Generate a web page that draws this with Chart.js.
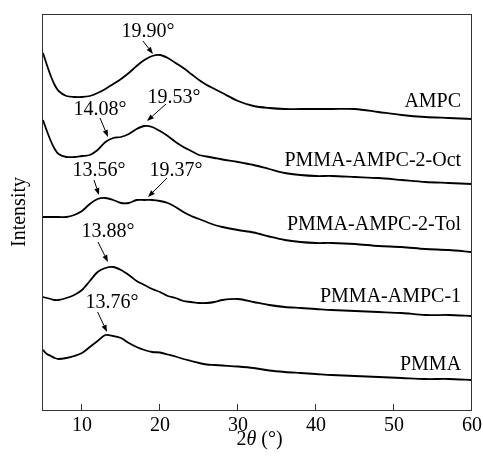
<!DOCTYPE html>
<html>
<head>
<meta charset="utf-8">
<script src="https://cdn.jsdelivr.net/npm/chart.js@4.4.1/dist/chart.umd.min.js"></script>
<style>
html,body{margin:0;padding:0;background:#fff;}
canvas{display:block;}
</style>
</head>
<body>
<canvas id="c" width="483" height="457"></canvas>
<script>
// 2θ grid (degrees)
const angles = [5,5.5,6,6.5,7,8,9,10,11,12,13,14,15,16,17,18,19,20,21,22,23,24,25,26,27,28,30,32,34,36,38,40,42,45,48,51,54,57,60];
// Intensities (a.u., stacked offsets as in the figure)
const ampc  = [357,345,334,325,319,314,313,313,314,317,321,326,331,337,344,350,354,355,352,347,342,336,330,325,321,317,309,304,302,301,301,301,301,301,298,295,293,292,291];
const oct   = [290,279,269,261,256,253,253,254,255,260,268,272,273,276,281,284,283,279,274,268,263,259,255,253.5,252,250.5,248,245,241,237,235,234,234,233,232,230,228,227,226];
const tol   = [193,193,193,193,193,193,195,199,206,211,212,210,207,207,210,210,210,209,207,203,198,194,191,188,185,183,180,177.5,173.5,170,168,167,167,166,164,163,161,160,158];
const ampc1 = [113,112,111,110,110,112,115,120,129,138,142,143,140,135,129,125,121,118,114,112,109,108,107,107,108,110,111,108,105,103,102,101,100,99,98,97,95,95,94];
const pmma  = [60,56,54,52,51,52,54,57,63,69,75,74,72,67,63,60,58,57.5,55.5,53.5,51,49,47,45.5,45,44.5,43.5,42,39.5,38,37,36,35,34,33,32,31,31,30];

const seriesNames = ['AMPC','PMMA-AMPC-2-Oct','PMMA-AMPC-2-Tol','PMMA-AMPC-1','PMMA'];
const seriesValues = [ampc, oct, tol, ampc1, pmma];
const seriesLabelAngle = 58.6;
const seriesLabelLevel = [308, 249, 185, 113, 45];

const xTicks = [10,20,30,40,50,60];

// Peak annotations
const peakTexts  = ['19.90°','14.08°','19.53°','13.56°','19.37°','13.88°','13.76°'];
const peakTextX  = [18.46, 12.31, 21.79, 12.18, 22.05, 13.33, 13.85];
const peakTextY  = [378, 300, 312, 239, 239, 178, 107];
const arrowTailX = [17.82, 12.31, 20.77, 11.54, 20.90, 12.05, 12.0];
const arrowTailY = [369, 292, 306, 230, 232, 168, 98];
const arrowTipX  = [19.10, 13.33, 18.33, 12.18, 18.46, 13.33, 13.21];
const arrowTipY  = [356, 273, 289, 215, 213, 148, 78];

const FONT = "'Liberation Serif','Times New Roman',serif";

const decor = {
  id: 'decor',
  afterDraw(chart) {
    const ctx = chart.ctx;
    const a = chart.chartArea;
    const xs = chart.scales.x, ys = chart.scales.y;
    ctx.save();
    // frame
    ctx.strokeStyle = '#333';
    ctx.lineWidth = 1;
    ctx.strokeRect(Math.round(a.left) - 0.5, Math.round(a.top) + 0.5, Math.round(a.right - a.left), Math.round(a.bottom - a.top));
    // inner ticks on bottom axis
    ctx.beginPath();
    xTicks.forEach(t => {
      const px = Math.round(xs.getPixelForValue(t)) - 0.5;
      ctx.moveTo(px, a.bottom);
      ctx.lineTo(px, a.bottom - 6);
    });
    ctx.stroke();

    ctx.fillStyle = '#000';
    ctx.strokeStyle = '#000';
    ctx.font = '20px ' + FONT;
    // series labels
    ctx.textAlign = 'right';
    ctx.textBaseline = 'middle';
    seriesNames.forEach((n, i) => {
      ctx.fillText(n, xs.getPixelForValue(seriesLabelAngle), ys.getPixelForValue(seriesLabelLevel[i]));
    });
    // peak labels + arrows
    ctx.textAlign = 'center';
    peakTexts.forEach((t, i) => {
      ctx.fillText(t, xs.getPixelForValue(peakTextX[i]), ys.getPixelForValue(peakTextY[i]));
      const x0 = xs.getPixelForValue(arrowTailX[i]), y0 = ys.getPixelForValue(arrowTailY[i]);
      const x1 = xs.getPixelForValue(arrowTipX[i]), y1 = ys.getPixelForValue(arrowTipY[i]);
      const ang = Math.atan2(y1 - y0, x1 - x0);
      const L = 7, W = 2.6;
      const bx = x1 - L * Math.cos(ang), by = y1 - L * Math.sin(ang);
      ctx.lineWidth = 1;
      ctx.beginPath();
      ctx.moveTo(x0, y0);
      ctx.lineTo(bx, by);
      ctx.stroke();
      ctx.beginPath();
      ctx.moveTo(x1, y1);
      ctx.lineTo(bx + W * Math.sin(ang), by - W * Math.cos(ang));
      ctx.lineTo(bx - W * Math.sin(ang), by + W * Math.cos(ang));
      ctx.closePath();
      ctx.fill();
    });
    // x-axis title: 2θ (°)
    const parts = [['2', 'normal'], ['θ', 'italic'], [' (°)', 'normal']];
    let total = 0;
    parts.forEach(p => { ctx.font = p[1] + ' 20px ' + FONT; total += ctx.measureText(p[0]).width; });
    let cx = (a.left + a.right) / 2 + 2 - total / 2;
    ctx.textAlign = 'left';
    ctx.textBaseline = 'middle';
    parts.forEach(p => {
      ctx.font = p[1] + ' 20px ' + FONT;
      ctx.fillText(p[0], cx, 440);
      cx += ctx.measureText(p[0]).width;
    });
    // y-axis title
    ctx.font = '20px ' + FONT;
    ctx.translate(20, (a.top + a.bottom) / 2);
    ctx.rotate(-Math.PI / 2);
    ctx.textAlign = 'center';
    ctx.textBaseline = 'middle';
    ctx.fillText('Intensity', 0, 0);
    ctx.restore();
  }
};

new Chart(document.getElementById('c'), {
  type: 'line',
  data: {
    datasets: seriesValues.map((vals, i) => ({
      label: seriesNames[i],
      data: angles.map((x, j) => ({x: x, y: vals[j]})),
      borderColor: '#000',
      borderWidth: 1.8,
      pointRadius: 0,
      fill: false,
      tension: 0.3
    }))
  },
  options: {
    responsive: false,
    animation: false,
    layout: {padding: {left: 43, right: 11, top: 14, bottom: 0}},
    plugins: {legend: {display: false}, tooltip: {enabled: false}},
    scales: {
      x: {
        type: 'linear',
        min: 5, max: 60,
        afterBuildTicks: s => { s.ticks = xTicks.map(v => ({value: v})); },
        afterFit: s => { s.height = 47; s.paddingLeft = 0; s.paddingRight = 0; },
        grid: {display: false, drawTicks: false},
        border: {display: false},
        ticks: {color: '#000', padding: 4, maxRotation: 0, font: {family: FONT, size: 20}}
      },
      y: {
        display: false,
        min: 0, max: 396
      }
    }
  },
  plugins: [decor]
});
</script>
</body>
</html>
